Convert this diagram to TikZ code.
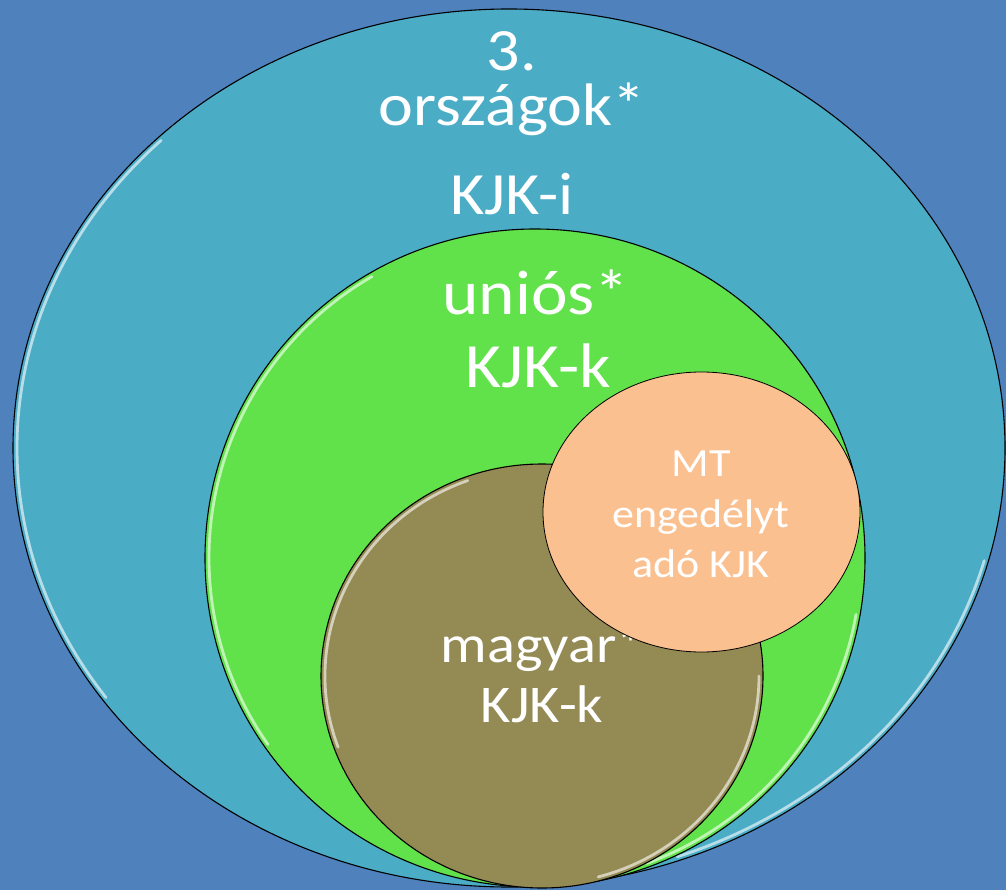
\documentclass[tikz,border=0pt]{standalone}
\usepackage{fontspec}
\setmainfont{Carlito}[FakeStretch=1.1]
\usetikzlibrary{shapes.geometric}
\definecolor{bgblue}{HTML}{4F81BD}
\definecolor{tealfill}{HTML}{4BACC6}
\definecolor{greenfill}{HTML}{62E24A}
\definecolor{brownfill}{HTML}{948A54}
\definecolor{orangefill}{HTML}{FAC090}
\begin{document}
\begin{tikzpicture}[x=1pt,y=-1pt,
  blob/.style={ellipse, draw=black, line width=1.1pt, inner sep=0pt},
  lbl/.style={text=white, anchor=base, inner sep=0pt, align=center},
  shine/.style={white, line width=2.8pt, opacity=0.6, line cap=round}]
\fill[bgblue] (0,0) rectangle (1006,890);
\useasboundingbox (0,0) rectangle (1006,890);
% outer ellipse
\node[blob, fill=tealfill, minimum width=992pt, minimum height=878pt] (outer) at (509,448) {};
\draw[shine] ([shift={(135:492pt and 435pt)}]outer.center) arc[start angle=135, end angle=215, x radius=492pt, y radius=435pt];
\draw[shine] ([shift={(290:492pt and 435pt)}]outer.center) arc[start angle=290, end angle=345, x radius=492pt, y radius=435pt];
\node[lbl, font=\fontsize{60}{60}\selectfont] (t1) at (512,71) {3.};
\node[lbl, font=\fontsize{60}{60}\selectfont] (t2) at (512,126) {országok*};
\node[lbl, font=\fontsize{60}{60}\selectfont] (t3) at (512,215) {KJK-i};
% green ellipse
\node[blob, fill=greenfill, minimum width=660pt, minimum height=658pt] (green) at (535,558) {};
\draw[shine] ([shift={(120:326pt and 325pt)}]green.center) arc[start angle=120, end angle=215, x radius=326pt, y radius=325pt];
\draw[shine] ([shift={(290:326pt and 325pt)}]green.center) arc[start angle=290, end angle=350, x radius=326pt, y radius=325pt];
\node[lbl, font=\fontsize{63}{63}\selectfont] (g1) at (536,315) {uniós*};
\node[lbl, font=\fontsize{63}{63}\selectfont] (g2) at (538,387) {KJK-k};
% brown circle
\node[blob, fill=brownfill, minimum width=442pt, minimum height=424pt] (brown) at (542,676) {};
\draw[shine] ([shift={(110:217pt and 208pt)}]brown.center) arc[start angle=110, end angle=200, x radius=217pt, y radius=208pt];
\draw[shine] ([shift={(285:217pt and 208pt)}]brown.center) arc[start angle=285, end angle=360, x radius=217pt, y radius=208pt];
\node[lbl, font=\fontsize{53}{53}\selectfont] (b1) at (543,662) {magyar*};
\node[lbl, font=\fontsize{53}{53}\selectfont] (b2) at (542,722) {KJK-k};
% orange ellipse
\node[ellipse, draw=black, line width=0.8pt, inner sep=0pt, fill=orangefill, minimum width=317pt, minimum height=280pt] (orange) at (701.5,512) {};
\node[lbl, font=\fontsize{40}{40}\selectfont] (o1) at (701,476) {MT};
\node[lbl, font=\fontsize{40}{40}\selectfont] (o2) at (701,527) {engedélyt};
\node[lbl, font=\fontsize{40}{40}\selectfont] (o3) at (701,577) {adó KJK};
\end{tikzpicture}
\end{document}
